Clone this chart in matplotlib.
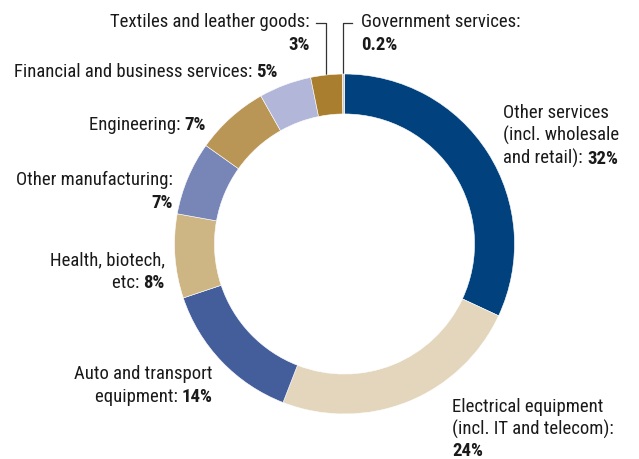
import matplotlib
matplotlib.use("Agg")
import matplotlib.pyplot as plt

# data, clockwise from 12 o'clock
sectors = ["Other services", "Electrical equipment", "Auto and transport equipment",
           "Health, biotech, etc", "Other manufacturing", "Engineering",
           "Financial and business services", "Textiles and leather goods",
           "Government services"]
shares = [32, 24, 14, 8, 7, 7, 5, 3, 0.2]
share_labels = ["32%", "24%", "14%", "8%", "7%", "7%", "5%", "3%", "0.2%"]
colors = ["#00417E", "#E3D6BC", "#435E9B", "#CEB584", "#7886B7",
          "#B99655", "#B2B7DA", "#A97E2E", "#CFCBC4"]

plt.rcParams['font.family'] = ['Roboto Condensed', 'DejaVu Sans']
tc = "#1a1a1a"

W, H = 639, 459
fig = plt.figure(figsize=(W/100, H/100), dpi=100)

# overlay axes in pixel coords for labels and leader lines
ov = fig.add_axes([0, 0, 1, 1])
ov.set_xlim(0, W)
ov.set_ylim(H, 0)
ov.axis("off")

# pick a font size so "Other manufacturing:" is ~156 px wide like the reference
r = fig.canvas.get_renderer()
probe = ov.text(0, 0, "Other manufacturing:", fontsize=10)
fs = 10 * 156 / probe.get_window_extent(r).width
probe.remove()

cx, cy, R = 344.5, 244, 170
ax = fig.add_axes([(cx-R)/W, 1-(cy+R)/H, 2*R/W, 2*R/H])
ax.pie(shares, colors=colors, startangle=90, counterclock=False,
       wedgeprops=dict(width=0.235, edgecolor="white", linewidth=0.4))
ax.set_xlim(-1, 1)
ax.set_ylim(-1, 1)
ax.set_zorder(2)

LS = 22.5


def label_left(x, y, lines, pct):
    for i, ln in enumerate(lines):
        t = ov.text(x, y + i*LS, ln, ha="left", va="center", fontsize=fs, color=tc)
    ov.annotate(pct, xy=(1, 0), xycoords=t, ha="left", va="bottom",
                fontsize=fs, color=tc, fontweight="bold")


def label_right(x, y, lines, pct):
    n = len(lines)
    b = ov.text(x, y + (n-1)*LS, pct, ha="right", va="center", fontsize=fs,
                color=tc, fontweight="bold")
    for i, ln in enumerate(lines[:-1]):
        ov.text(x, y + i*LS, ln, ha="right", va="center", fontsize=fs, color=tc)
    ov.annotate(lines[-1], xy=(0, 0), xycoords=b, ha="right", va="bottom",
                fontsize=fs, color=tc)


def two_line(x, y, text, pct, ha, ls=LS):
    ov.text(x, y, text, ha=ha, va="center", fontsize=fs, color=tc)
    ov.text(x, y + ls, pct, ha=ha, va="center", fontsize=fs, color=tc, fontweight="bold")


label_left(503, 113, ["Other services", "(incl. wholesale", "and retail): "], share_labels[0])
ov.text(452, 407, "Electrical equipment", ha="left", va="center", fontsize=fs, color=tc)
two_line(452, 429, "(incl. IT and telecom):", share_labels[1], "left", 21.5)
label_right(213, 374, ["Auto and transport", "equipment: "], share_labels[2])
label_right(165, 260, ["Health, biotech,", "etc: "], share_labels[3])
two_line(173, 180, "Other manufacturing:", share_labels[4], "right")
label_right(206, 125, ["Engineering: "], share_labels[5])
label_right(278, 72, ["Financial and business services: "], share_labels[6])
two_line(310, 22, "Textiles and leather goods:", share_labels[7], "right")
two_line(361, 22, "Government services:", share_labels[8], "left")

# leader lines
ov.plot([316, 326, 326], [23, 23, 76], color="#333333", lw=0.9)
ov.plot([352, 343, 343], [23, 23, 76], color="#333333", lw=0.9)

fig.savefig("out.png", dpi=100)
